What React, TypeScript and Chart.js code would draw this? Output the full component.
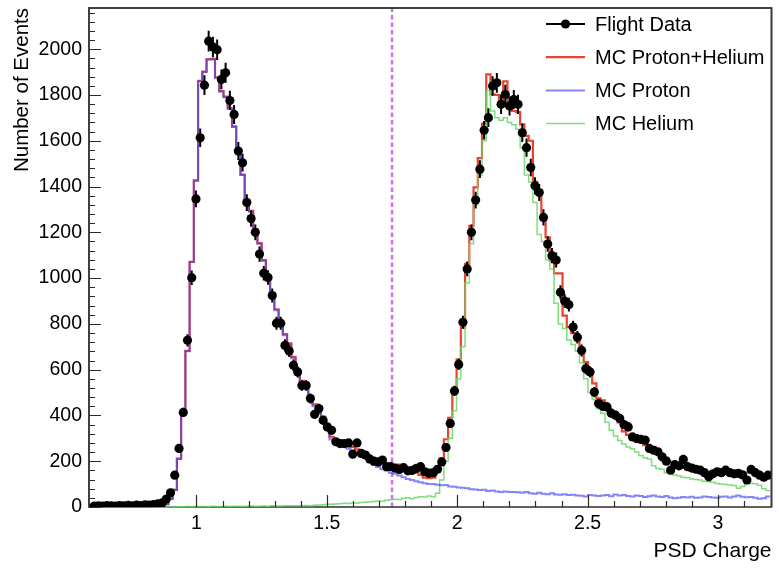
import React, { useEffect, useRef } from "react";
import { Chart, registerables } from "chart.js";

Chart.register(...registerables);

// ---- axis ranges and ticks ----
const BIN_LOW = 0.6;
const BIN_HIGH = 3.2;
const X_MIN = 0.588;
const X_MAX = 3.205;
const Y_MIN = 0;
const Y_MAX = 2180;
const X_TICKS = [1, 1.5, 2, 2.5, 3];
const X_MINOR_TICKS = [1.1, 1.2, 1.3, 1.4, 1.6, 1.7, 1.8, 1.9, 2.1, 2.2, 2.3, 2.4, 2.6, 2.7, 2.8, 2.9, 3.1];
const Y_TICKS = [0, 200, 400, 600, 800, 1000, 1200, 1400, 1600, 1800, 2000];
const Y_MINOR_STEP = 40;
const CUT_VALUE = 1.75;

const X_TITLE = "PSD Charge";
const Y_TITLE = "Number of Events";
const LABELS = ["Flight Data", "MC Proton+Helium", "MC Proton", "MC Helium"];

// ---- series (160 bins from 0.6 to 3.2) ----
const FLIGHT_DATA = [
  4, 5, 4, 6, 5, 4, 6, 5, 7, 5, 8, 6, 9, 8, 11, 14,
  18, 35, 62, 139, 256, 413, 728, 1002, 1346, 1613,
  1843, 2035, 2010, 1998, 1868, 1897, 1776, 1715, 1555, 1504,
  1330, 1260, 1200, 1105, 1021, 1003, 924, 803, 803, 706,
  681, 619, 590, 531, 531, 474, 405, 430, 379, 350,
  335, 285, 277, 277, 280, 231, 280, 234, 227, 210,
  200, 197, 205, 176, 176, 170, 164, 172, 158, 160,
  169, 176, 154, 148, 150, 165, 197, 260, 365, 507,
  623, 807, 1040, 1200, 1341, 1476, 1646, 1701, 1839, 1853,
  1759, 1802, 1752, 1780, 1759, 1635, 1570, 1483, 1403, 1374,
  1265, 1149, 1098, 1079, 938, 900, 884, 786, 742, 684,
  604, 590, 502, 452, 440, 437, 410, 401, 387, 360,
  350, 306, 299, 295, 292, 256, 248, 241, 219, 200,
  161, 185, 180, 208, 176, 170, 165, 161, 150, 132,
  145, 154, 150, 161, 150, 145, 147, 140, 118, 164,
  150, 139, 130, 139,
];

const MC_PROTON_HELIUM = [
  0, 0, 0, 0, 0, 0, 0, 0, 0, 0, 0, 0, 1, 1, 2, 3,
  5, 12, 36, 75, 211, 416, 682, 1071, 1427, 1862,
  1902, 1956, 1958, 1877, 1817, 1793, 1742, 1663, 1563, 1452,
  1343, 1294, 1213, 1153, 1079, 993, 930, 864, 804, 755,
  715, 656, 595, 551, 527, 486, 448, 419, 395, 362,
  307, 293, 289, 281, 270, 263, 252, 245, 236, 217,
  205, 198, 190, 188, 182, 178, 185, 170, 160, 152,
  150, 140, 128, 126, 128, 155, 213, 296, 390, 508,
  645, 784, 1062, 1228, 1396, 1524, 1675, 1890, 1803, 1800,
  1760, 1860, 1745, 1730, 1725, 1672, 1621, 1600, 1420, 1381,
  1265, 1178, 1076, 1021, 1021, 836, 786, 760, 728, 690,
  633, 590, 540, 475, 466, 437, 410, 393, 370, 330,
  315, 305, 292, 285, 270, 256, 262, 234, 225, 215,
  197, 190, 176, 172, 165, 165, 154, 158, 150, 152,
  144, 148, 140, 145, 138, 140, 135, 142, 150, 158,
  145, 132, 118, 148,
];

const MC_PROTON = [
  0, 0, 0, 0, 0, 0, 0, 0, 0, 0, 0, 0, 1, 1, 2, 3,
  5, 12, 35, 75, 210, 415, 680, 1070, 1425, 1860,
  1900, 1955, 1955, 1875, 1815, 1790, 1740, 1660, 1560, 1450,
  1340, 1290, 1210, 1150, 1075, 990, 925, 860, 800, 750,
  710, 650, 590, 545, 520, 480, 440, 410, 385, 350,
  295, 280, 275, 265, 255, 245, 235, 225, 215, 195,
  185, 175, 165, 160, 150, 145, 138, 130, 122, 118,
  112, 108, 104, 100, 100, 97, 95, 96, 90, 88,
  85, 84, 82, 78, 76, 74, 75, 70, 72, 68,
  66, 68, 65, 66, 64, 62, 66, 60, 58, 62,
  58, 56, 60, 55, 54, 56, 52, 54, 50, 49,
  46, 52, 50, 48, 50, 52, 47, 55, 50, 52,
  48, 46, 50, 48, 44, 47, 50, 46, 44, 48,
  42, 38, 40, 44, 42, 45, 40, 42, 46, 44,
  42, 40, 45, 46, 42, 46, 50, 45, 43, 44,
  40, 36, 38, 46,
];

const MC_HELIUM = [
  0, 0, 0, 0, 0, 0, 0, 0, 0, 0, 0, 0, 0, 0, 0, 0,
  0, 0, 1, 0, 1, 1, 2, 1, 2, 2,
  2, 1, 3, 2, 2, 3, 2, 3, 3, 2,
  3, 4, 3, 3, 4, 3, 5, 4, 4, 5,
  5, 6, 5, 6, 7, 6, 8, 9, 10, 12,
  12, 13, 14, 16, 15, 18, 17, 20, 21, 22,
  24, 26, 25, 30, 32, 34, 33, 38, 40, 36,
  42, 45, 44, 48, 45, 60, 118, 200, 300, 420,
  560, 700, 980, 1150, 1320, 1450, 1600, 1820, 1730, 1700,
  1690, 1700, 1680, 1670, 1650, 1570, 1450, 1420, 1330, 1190,
  1160, 1080, 1040, 890, 800, 780, 730, 710, 680, 630,
  560, 500, 470, 430, 410, 370, 335, 310, 290, 275,
  262, 255, 240, 225, 215, 210, 180, 168, 165, 150,
  145, 140, 135, 130, 128, 122, 120, 118, 112, 110,
  108, 103, 100, 98, 96, 94, 82, 90, 100, 104,
  102, 95, 80, 72,
];

// ---- styles ----
const FONT = "'Liberation Sans', Arial, Helvetica, sans-serif";
const COL_DATA = "#000000";
const COL_SUM = "#e8432f";
const COL_PROTON = "rgba(70, 70, 245, 0.66)";
const COL_HELIUM = "rgba(105, 215, 105, 0.85)";
const COL_CUT = "#d46cf2";

const binWidth = (BIN_HIGH - BIN_LOW) / FLIGHT_DATA.length;
const histPoints = (arr: number[]) => {
  const pts = arr.map((v, i) => ({ x: BIN_LOW + i * binWidth, y: v }));
  pts.push({ x: BIN_HIGH, y: arr[arr.length - 1] });
  return pts;
};
const centerPoints = (arr: number[]) => arr.map((v, i) => ({ x: BIN_LOW + (i + 0.5) * binWidth, y: v }));

const errorBarPlugin = {
  id: "errorBars",
  afterDatasetsDraw(chart: any) {
    const { ctx, chartArea: a, scales } = chart;
    const xs = scales.x;
    const ys = scales.y;
    ctx.save();
    ctx.beginPath();
    ctx.rect(a.left, a.top, a.right - a.left, a.bottom - a.top);
    ctx.clip();
    ctx.strokeStyle = COL_DATA;
    ctx.lineWidth = 2;
    ctx.beginPath();
    FLIGHT_DATA.forEach((v, i) => {
      const e = Math.sqrt(v);
      const px = xs.getPixelForValue(BIN_LOW + (i + 0.5) * binWidth);
      ctx.moveTo(px, ys.getPixelForValue(v - e));
      ctx.lineTo(px, ys.getPixelForValue(v + e));
    });
    ctx.stroke();
    ctx.restore();
  },
};

const cutPlugin = {
  id: "cutLine",
  beforeDatasetsDraw(chart: any) {
    const { ctx, chartArea: a, scales } = chart;
    const px = scales.x.getPixelForValue(CUT_VALUE);
    ctx.save();
    ctx.strokeStyle = COL_CUT;
    ctx.lineWidth = 2.5;
    ctx.setLineDash([4.5, 3]);
    ctx.beginPath();
    ctx.moveTo(px, a.bottom);
    ctx.lineTo(px, a.top);
    ctx.stroke();
    ctx.restore();
  },
};

const framePlugin = {
  id: "frame",
  beforeDatasetsDraw(chart: any) {
    const { ctx, chartArea: a } = chart;
    ctx.save();
    ctx.lineWidth = 1.6;
    ctx.strokeStyle = "#3a3a3a";
    ctx.strokeRect(a.left, a.top, a.right - a.left, a.bottom - a.top);
    ctx.restore();
  },
  afterDatasetsDraw(chart: any) {
    const { ctx, chartArea: a, scales } = chart;
    const xs = scales.x;
    const ys = scales.y;
    ctx.save();
    ctx.strokeStyle = "#2a2a2a";
    ctx.lineWidth = 1.2;
    ctx.beginPath();
    for (let v = Y_MIN; v <= Y_MAX; v += Y_MINOR_STEP) {
      const p = Math.round(ys.getPixelForValue(v)) + 0.5;
      const len = Y_TICKS.includes(v) ? 12 : 6;
      ctx.moveTo(a.left, p);
      ctx.lineTo(a.left + len, p);
    }
    X_TICKS.forEach((v) => {
      const p = Math.round(xs.getPixelForValue(v)) + 0.5;
      ctx.moveTo(p, a.bottom);
      ctx.lineTo(p, a.bottom - 12);
    });
    X_MINOR_TICKS.forEach((v) => {
      const p = Math.round(xs.getPixelForValue(v)) + 0.5;
      ctx.moveTo(p, a.bottom);
      ctx.lineTo(p, a.bottom - 6);
    });
    ctx.stroke();
    ctx.lineWidth = 1.6;
    ctx.strokeStyle = "#3a3a3a";
    ctx.beginPath();
    ctx.moveTo(a.left, a.bottom);
    ctx.lineTo(a.left, a.top);
    ctx.lineTo(a.right, a.top);
    ctx.lineTo(a.right, a.bottom);
    ctx.stroke();
    ctx.restore();
  },
};

const legendPlugin = {
  id: "rootLegend",
  afterDraw(chart: any) {
    const { ctx } = chart;
    const ds = chart.data.datasets;
    const x0 = 546;
    const x1 = 585;
    const tx = 595;
    const y0 = 24;
    const dy = 33.2;
    ctx.save();
    ctx.font = `20px ${FONT}`;
    ctx.textBaseline = "middle";
    ctx.textAlign = "left";
    ds.forEach((d: any, i: number) => {
      const y = y0 + i * dy;
      ctx.strokeStyle = i === 0 ? COL_DATA : d.borderColor;
      ctx.lineWidth = i === 0 ? 2 : d.borderWidth;
      ctx.beginPath();
      ctx.moveTo(x0, y);
      ctx.lineTo(x1, y);
      ctx.stroke();
      if (i === 0) {
        ctx.fillStyle = COL_DATA;
        ctx.beginPath();
        ctx.arc((x0 + x1) / 2, y, 4.6, 0, Math.PI * 2);
        ctx.fill();
      }
      ctx.fillStyle = "#000";
      ctx.fillText(d.label, tx, y + 1);
    });
    ctx.restore();
  },
};

export default function App() {
  const ref = useRef<HTMLCanvasElement | null>(null);

  useEffect(() => {
    if (!ref.current) return;
    const chart = new Chart(ref.current, {
      type: "line",
      data: {
        datasets: [
          {
            label: LABELS[0],
            data: centerPoints(FLIGHT_DATA),
            showLine: false,
            pointRadius: 4.6,
            pointBackgroundColor: COL_DATA,
            pointBorderColor: COL_DATA,
            pointBorderWidth: 0,
            borderColor: COL_DATA,
            order: 0,
          },
          {
            label: LABELS[1],
            data: histPoints(MC_PROTON_HELIUM),
            stepped: true,
            borderColor: COL_SUM,
            borderWidth: 2.2,
            pointRadius: 0,
            fill: false,
            clip: 3,
            order: 3,
          },
          {
            label: LABELS[2],
            data: histPoints(MC_PROTON),
            stepped: true,
            borderColor: COL_PROTON,
            borderWidth: 2,
            pointRadius: 0,
            fill: false,
            clip: 3,
            order: 1,
          },
          {
            label: LABELS[3],
            data: histPoints(MC_HELIUM),
            stepped: true,
            borderColor: COL_HELIUM,
            borderWidth: 1.5,
            pointRadius: 0,
            fill: false,
            clip: 3,
            order: 2,
          },
        ] as any,
      },
      options: {
        animation: false,
        responsive: true,
        maintainAspectRatio: false,
        events: [],
        layout: { padding: { top: 8, right: 7.5, left: 0, bottom: 0 } },
        plugins: {
          legend: { display: false },
          tooltip: { enabled: false },
        },
        scales: {
          x: {
            type: "linear",
            min: X_MIN,
            max: X_MAX,
            grid: { display: false, drawTicks: false },
            border: { display: false },
            afterFit: (s: any) => {
              s.height = 62;
              s.paddingLeft = 0;
              s.paddingRight = 0;
            },
            afterBuildTicks: (s: any) => {
              s.ticks = X_TICKS.map((v) => ({ value: v }));
            },
            ticks: {
              color: "#000",
              font: { family: FONT, size: 19.5 },
              padding: 5,
              maxRotation: 0,
              autoSkip: false,
              callback: (v: any) => String(v),
            },
            title: {
              display: true,
              text: X_TITLE,
              align: "end",
              color: "#000",
              font: { family: FONT, size: 21 },
              padding: { top: 0, bottom: 5 },
            },
          },
          y: {
            type: "linear",
            min: Y_MIN,
            max: Y_MAX,
            grid: { display: false, drawTicks: false },
            border: { display: false },
            afterFit: (s: any) => {
              s.width = 89;
              s.paddingTop = 0;
              s.paddingBottom = 0;
            },
            afterBuildTicks: (s: any) => {
              s.ticks = Y_TICKS.map((v) => ({ value: v }));
            },
            ticks: {
              color: "#000",
              font: { family: FONT, size: 19.5 },
              padding: 7,
              autoSkip: false,
              callback: (v: any) => String(v),
            },
            title: {
              display: true,
              text: Y_TITLE,
              align: "end",
              color: "#000",
              font: { family: FONT, size: 20.5 },
              padding: { top: 10, bottom: 0 },
            },
          },
        },
      } as any,
      plugins: [cutPlugin, errorBarPlugin, framePlugin, legendPlugin],
    });
    return () => chart.destroy();
  }, []);

  return (
    <div style={{ position: "absolute", left: 0, top: 0, width: 779, height: 569, background: "#fff" }}>
      <canvas ref={ref} />
    </div>
  );
}
